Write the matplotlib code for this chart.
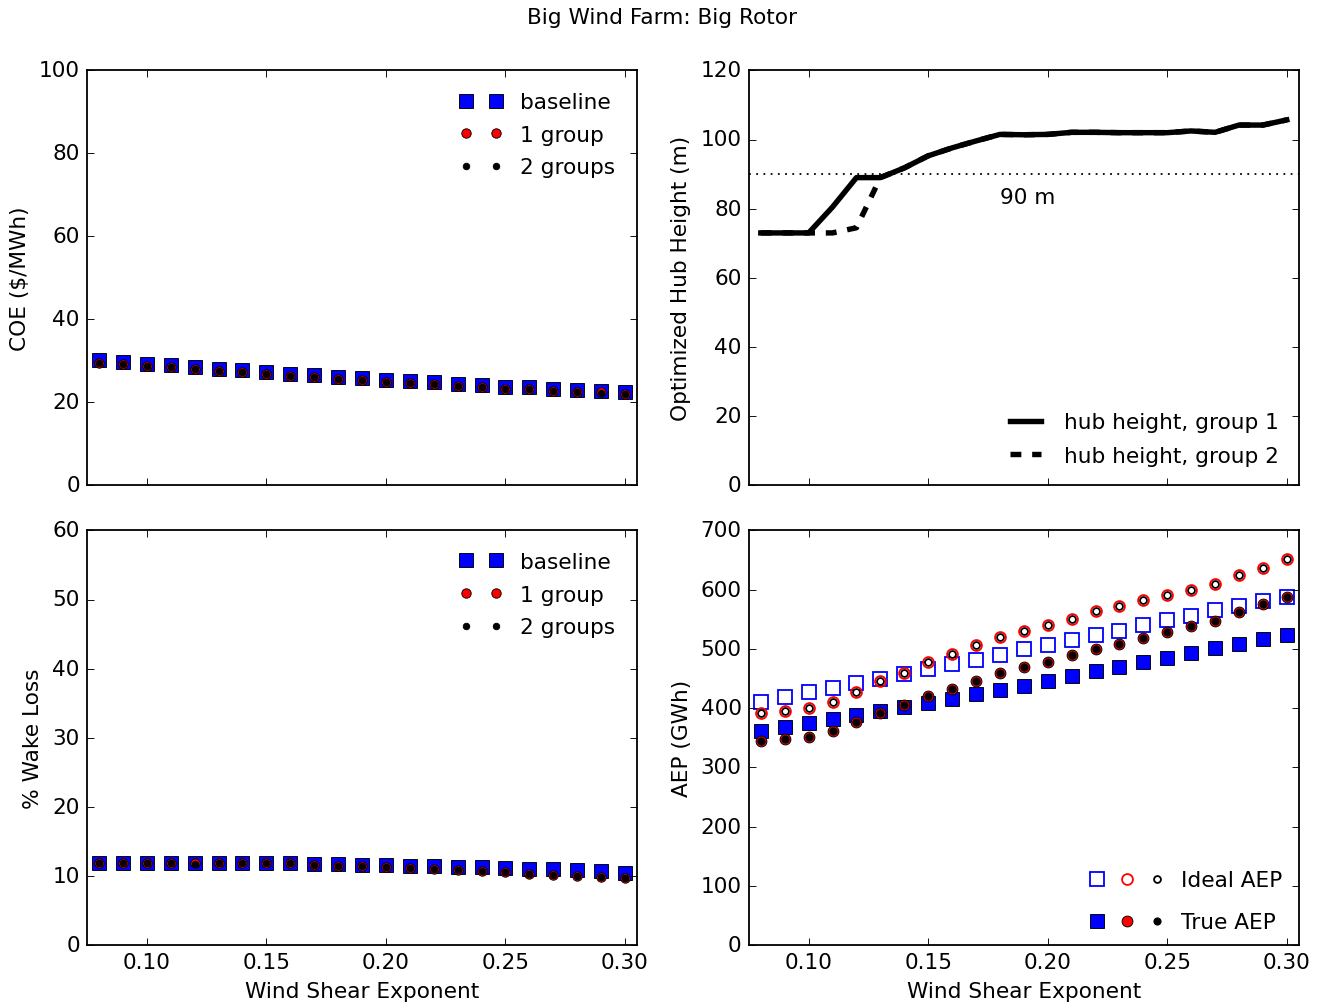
import matplotlib
matplotlib.use('Agg')
import matplotlib.pyplot as plt
from matplotlib.legend_handler import HandlerTuple

plt.style.use('classic')

# wind shear exponents
shear = [0.08, 0.09, 0.10, 0.11, 0.12, 0.13, 0.14, 0.15, 0.16, 0.17, 0.18, 0.19,
         0.20, 0.21, 0.22, 0.23, 0.24, 0.25, 0.26, 0.27, 0.28, 0.29, 0.30]

# COE ($/MWh)
coe_base = [30.1, 29.7, 29.3, 28.9, 28.5, 28.1, 27.7, 27.3, 26.9, 26.6, 26.2, 25.8,
            25.5, 25.1, 24.8, 24.5, 24.2, 23.8, 23.6, 23.3, 23.0, 22.8, 22.5]
coe_1g = [29.5, 29.2, 28.8, 28.4, 28.0, 27.6, 27.2, 26.8, 26.4, 26.1, 25.7, 25.3,
          25.0, 24.6, 24.3, 24.0, 23.7, 23.3, 23.1, 22.8, 22.5, 22.4, 22.1]
coe_2g = [29.5, 29.2, 28.8, 28.4, 28.0, 27.6, 27.2, 26.8, 26.4, 26.1, 25.7, 25.3,
          25.0, 24.6, 24.3, 24.0, 23.7, 23.3, 23.1, 22.8, 22.5, 22.2, 22.1]

# % wake loss
wake_base = [11.85, 11.85, 11.85, 11.85, 11.85, 11.85, 11.85, 11.85, 11.85, 11.75, 11.7, 11.6,
             11.55, 11.45, 11.4, 11.3, 11.25, 11.15, 11.05, 11.0, 10.85, 10.7, 10.5]
wake_1g = [11.85, 11.85, 11.85, 11.85, 11.85, 11.85, 11.85, 11.85, 11.85, 11.6, 11.5, 11.4,
           11.25, 11.15, 11.0, 10.85, 10.7, 10.55, 10.35, 10.2, 10.05, 9.85, 9.65]
wake_2g = [11.85, 11.85, 11.85, 11.85, 11.7, 11.85, 11.85, 11.85, 11.85, 11.6, 11.5, 11.4,
           11.25, 11.15, 11.0, 10.85, 10.7, 10.55, 10.35, 10.2, 10.05, 9.85, 9.65]

# optimized hub heights (m)
hub_g1 = [73.0, 73.0, 73.0, 80.5, 89.0, 89.0, 91.8, 95.3, 97.6, 99.6, 101.5, 101.4,
          101.5, 102.1, 102.1, 102.0, 102.0, 102.0, 102.5, 102.1, 104.2, 104.2, 105.7]
hub_g2 = [73.0, 73.0, 73.0, 73.0, 74.5, 89.0, 91.8, 95.3, 97.6, 99.6, 101.5, 101.4,
          101.5, 102.1, 102.1, 102.0, 102.0, 102.0, 102.5, 102.1, 104.2, 104.2, 105.7]

# AEP (GWh)
ideal_base = [411, 419, 427, 434, 442, 450, 458, 466, 474, 482, 490, 499,
              507, 515, 523, 531, 540, 548, 556, 565, 573, 580, 587]
ideal_1g = [392, 396, 401, 411, 427, 446, 460, 478, 491, 507, 520, 531,
            541, 551, 564, 573, 582, 591, 600, 610, 625, 637, 651]
ideal_2g = ideal_1g
true_base = [362, 368, 375, 381, 388, 395, 402, 409, 416, 424, 431, 438,
             446, 454, 462, 470, 478, 485, 493, 501, 509, 517, 524]
true_1g = [344, 348, 352, 362, 376, 392, 405, 421, 433, 446, 459, 469,
           478, 489, 500, 509, 519, 528, 539, 547, 562, 575, 587]
true_2g = true_1g

fig, axes = plt.subplots(2, 2, figsize=(10.19, 7.73), dpi=130, facecolor='white')
fig.subplots_adjust(left=0.0657, right=0.9804, bottom=0.0585, top=0.9290,
                    wspace=0.2036, hspace=0.1087)
fig.suptitle('Big Wind Farm: Big Rotor', fontsize=12, y=0.992)

ax1, ax2, ax3, ax4 = axes[0, 0], axes[0, 1], axes[1, 0], axes[1, 1]

# COE
ax1.plot(shear, coe_base, 's', color='b', mec='k', ms=7.5, mew=0.5, label='baseline')
ax1.plot(shear, coe_1g, 'o', color='r', mec='k', ms=5.2, mew=0.5, label='1 group')
ax1.plot(shear, coe_2g, 'o', color='k', ms=3.6, label='2 groups')
ax1.set_ylim(0, 100)
ax1.set_ylabel('COE (\\$/MWh)')
ax1.legend(loc='upper right', frameon=False, numpoints=2, fontsize=12,
           labelspacing=0.58, borderaxespad=0.6)

# hub heights
ax2.plot(shear, hub_g1, 'k-', lw=3, label='hub height, group 1')
ax2.plot(shear, hub_g2, 'k--', lw=3, label='hub height, group 2')
ax2.axhline(90, color='k', ls=':', lw=1)
ax2.text(0.18, 81.5, '90 m', fontsize=12)
ax2.set_ylim(0, 120)
ax2.set_ylabel('Optimized Hub Height (m)')
ax2.legend(loc='lower right', frameon=False, fontsize=12, labelspacing=0.62)

# wake loss
ax3.plot(shear, wake_base, 's', color='b', mec='k', ms=7.5, mew=0.5, label='baseline')
ax3.plot(shear, wake_1g, 'o', color='r', mec='k', ms=5.2, mew=0.5, label='1 group')
ax3.plot(shear, wake_2g, 'o', color='k', ms=3.6, label='2 groups')
ax3.set_ylim(0, 60)
ax3.set_ylabel('% Wake Loss')
ax3.set_xlabel('Wind Shear Exponent')
ax3.legend(loc='upper right', frameon=False, numpoints=2, fontsize=12,
           labelspacing=0.58, borderaxespad=0.6)

# AEP
p1, = ax4.plot(shear, ideal_base, 's', mfc='none', mec='b', ms=8, mew=1)
p2, = ax4.plot(shear, ideal_1g, 'o', mfc='none', mec='r', ms=6, mew=1)
p3, = ax4.plot(shear, ideal_2g, 'o', mfc='w', mec='k', ms=3.8, mew=1)
p4, = ax4.plot(shear, true_base, 's', color='b', mec='k', ms=8, mew=0.5)
p5, = ax4.plot(shear, true_1g, 'o', color='r', mec='k', ms=6, mew=0.5)
p6, = ax4.plot(shear, true_2g, 'o', color='k', ms=4)
ax4.set_ylim(0, 700)
ax4.set_ylabel('AEP (GWh)')
ax4.set_xlabel('Wind Shear Exponent')
ax4.legend([(p1, p2, p3), (p4, p5, p6)], ['Ideal AEP', 'True AEP'], loc='lower right',
           bbox_to_anchor=(0.993, 0.0), frameon=False, numpoints=1, fontsize=12,
           handlelength=4.15, handletextpad=0.4, labelspacing=1.0, borderaxespad=0.2,
           handler_map={tuple: HandlerTuple(ndivide=None, pad=0.0)})

for ax in [ax1, ax2, ax3, ax4]:
    ax.set_xlim(0.075, 0.305)
    ax.set_xticks([0.10, 0.15, 0.20, 0.25, 0.30])
for ax in [ax1, ax2]:
    ax.set_xticklabels([])

fig.savefig('out.png', dpi=130, facecolor='white')
